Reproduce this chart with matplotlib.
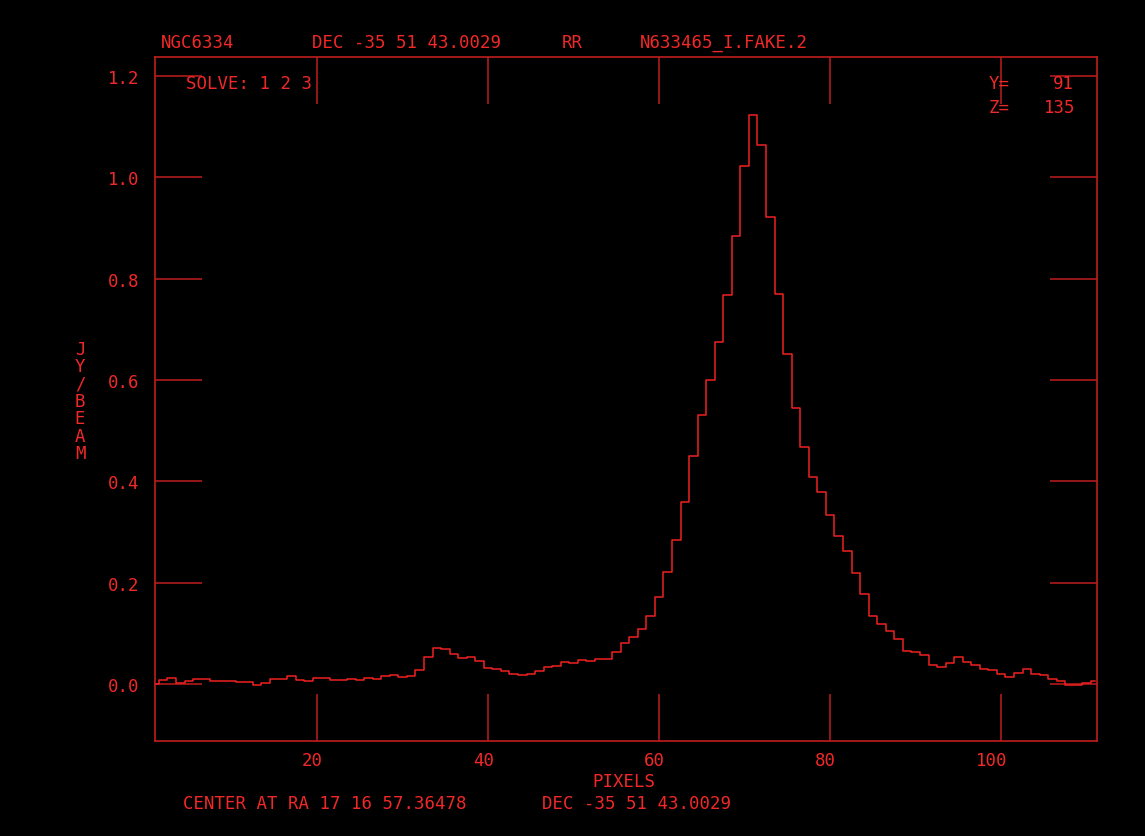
import numpy as np
import matplotlib
matplotlib.use("Agg")
import matplotlib.pyplot as plt
import matplotlib.transforms as mtransforms

# ---- data ----
pixels = np.arange(1, 112)
jy_beam = [
    0.000, 0.008, 0.011, 0.001, 0.006, 0.009, 0.009, 0.006, 0.006, 0.005,
    0.003, 0.003, -0.001, 0.001, 0.009, 0.009, 0.015, 0.008, 0.006, 0.011,
    0.011, 0.008, 0.008, 0.009, 0.008, 0.011, 0.009, 0.015, 0.017, 0.013,
    0.015, 0.028, 0.053, 0.072, 0.070, 0.059, 0.051, 0.053, 0.045, 0.031,
    0.029, 0.026, 0.019, 0.017, 0.019, 0.026, 0.033, 0.035, 0.044, 0.042,
    0.047, 0.045, 0.049, 0.049, 0.064, 0.080, 0.092, 0.108, 0.134, 0.172,
    0.221, 0.284, 0.359, 0.450, 0.530, 0.600, 0.675, 0.767, 0.884, 1.022,
    1.124, 1.063, 0.921, 0.769, 0.651, 0.544, 0.467, 0.408, 0.378, 0.334,
    0.292, 0.263, 0.220, 0.177, 0.135, 0.119, 0.105, 0.088, 0.065, 0.063,
    0.058, 0.038, 0.033, 0.042, 0.053, 0.044, 0.037, 0.030, 0.028, 0.020,
    0.014, 0.022, 0.030, 0.020, 0.017, 0.009, 0.005, -0.001, -0.001, 0.001,
    0.006,
]
x_ticks = [20, 40, 60, 80, 100]
x_tick_labels = ["20", "40", "60", "80", "100"]
y_ticks = [0.0, 0.2, 0.4, 0.6, 0.8, 1.0, 1.2]
y_tick_labels = ["0.0", "0.2", "0.4", "0.6", "0.8", "1.0", "1.2"]

title_parts = ["NGC6334", "DEC -35 51 43.0029", "RR", "N633465_I.FAKE.2"]
footer_parts = ["CENTER AT RA 17 16 57.36478", "DEC -35 51 43.0029"]
x_label = "PIXELS"
y_label = "JY/BEAM"
solve_text = "SOLVE: 1 2 3"
y_pos_label, y_pos_value = "Y=", "91"
z_pos_label, z_pos_value = "Z=", "135"

# ---- style ----
W, H = 1145, 837
TXT = "#f02828"
FRAME = "#c01e1e"
LINE = "#f02020"
FONT = "DejaVu Sans Mono"
FS = 12.5

fig = plt.figure(figsize=(W / 100, H / 100), dpi=100)
fig.patch.set_facecolor("black")

ax = fig.add_axes([155 / W, 1 - 742 / H, (1097 - 155) / W, (742 - 58) / H])
ax.set_facecolor("black")

ax.step(pixels, jy_beam, where="mid", color=LINE, lw=1.1, clip_on=False)
ax.set_xlim(1.05, 111.2)
ax.set_ylim(-0.1125, 1.2375)

for s in ax.spines.values():
    s.set_color(FRAME)
    s.set_linewidth(1.2)

ax.set_xticks(x_ticks)
ax.set_xticklabels(x_tick_labels)
ax.set_yticks(y_ticks)
ax.set_yticklabels(y_tick_labels)
ax.tick_params(axis="both", which="major", direction="in", length=34,
               width=1.1, color=FRAME, top=True, right=True,
               labelcolor=TXT, labelsize=FS)
ax.tick_params(axis="x", pad=7)
ax.tick_params(axis="y", pad=11)
ax.minorticks_off()
for lab in ax.get_xticklabels():
    lab.set_fontfamily(FONT)
    lab.set_horizontalalignment("right")
    lab.set_transform(lab.get_transform() +
                      mtransforms.ScaledTranslation(6 / 100, 0, fig.dpi_scale_trans))
for lab in ax.get_yticklabels():
    lab.set_fontfamily(FONT)


def ftext(x, y, s, ha="center", **kw):
    fig.text(x / W, 1 - y / H, s, ha=ha, va="center", color=TXT,
             family=FONT, fontsize=FS, **kw)


# title parts
ftext(198, 43, title_parts[0])
ftext(407, 43, title_parts[1])
ftext(572, 43, title_parts[2])
ftext(724, 43, title_parts[3])

# footer
ftext(624, 782, x_label)
ftext(325, 804, footer_parts[0])
ftext(636, 804, footer_parts[1])

# y label, stacked letters
ftext(80, 402, "\n".join(y_label), linespacing=0.95)

# inside annotations
ftext(249, 84, solve_text)
ftext(999, 84, y_pos_label)
ftext(1074, 84, y_pos_value, ha="right")
ftext(999, 108, z_pos_label)
ftext(1075, 108, z_pos_value, ha="right")

fig.savefig("out.png", dpi=100, facecolor="black")
